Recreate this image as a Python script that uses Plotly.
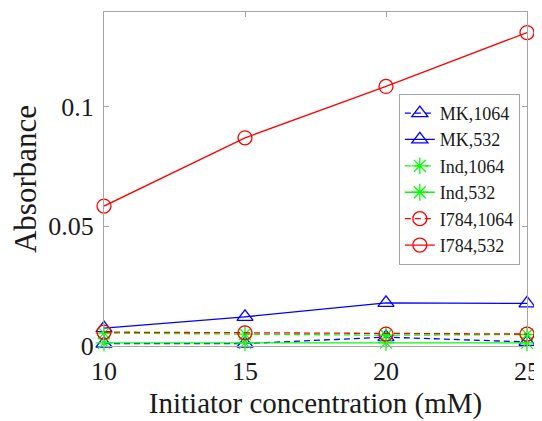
import plotly.graph_objects as go

conc = [10, 15, 20, 25]
mk_1064 = [0.0010, 0.0010, 0.0037, 0.0017]
mk_532 = [0.0075, 0.0122, 0.0180, 0.0178]
ind_1064 = [0.0054, 0.0050, 0.0045, 0.0048]
ind_532 = [0.0013, 0.0013, 0.0014, 0.0013]
i784_1064 = [0.0058, 0.0055, 0.0050, 0.0050]
i784_532 = [0.0585, 0.0870, 0.1085, 0.1310]

series = [
    ("MK,1064", mk_1064, "#0000ff", "6px,4px", "triangle-up-open"),
    ("MK,532", mk_532, "#0000ff", "solid", "triangle-up-open"),
    ("Ind,1064", ind_1064, "#00ff00", "6px,4px", "asterisk-open"),
    ("Ind,532", ind_532, "#00ff00", "solid", "asterisk-open"),
    ("I784,1064", i784_1064, "#ff0000", "6px,4px", "circle-open"),
    ("I784,532", i784_532, "#ff0000", "solid", "circle-open"),
]

fig = go.Figure()
for name, vals, col, dash, sym in series:
    fig.add_trace(go.Scatter(
        x=conc, y=vals, name=name, mode="lines+markers",
        line=dict(color=col, width=1.3, dash=dash),
        marker=dict(symbol=sym, size=14, color=col, line=dict(color=col, width=1.3)),
        cliponaxis=False,
    ))

font = "Liberation Serif, Times New Roman, serif"
axis_common = dict(
    showgrid=False, zeroline=False, showline=True, mirror="allticks",
    linecolor="#a6a6a6", linewidth=1, ticks="inside", ticklen=5,
    tickcolor="#a6a6a6", tickfont=dict(family=font, size=26, color="#1a1a1a"),
    automargin=False,
)
# the page body has an 8px margin, so the figure is offset by 8px
fig.update_layout(
    width=534, height=413,
    margin=dict(l=96, r=15, t=4, b=75, autoexpand=False),
    paper_bgcolor="white", plot_bgcolor="white",
    font=dict(family=font, color="#1a1a1a"),
    xaxis=dict(range=[10, 25], tickvals=[10, 15, 20, 25], ticklabelstandoff=2,
               title=dict(text="Initiator concentration (mM)", font=dict(family=font, size=29), standoff=7),
               **axis_common),
    yaxis=dict(range=[0, 0.1396], tickvals=[0, 0.05, 0.1], ticktext=["0", "0.05", "0.1"],
               ticklabelstandoff=4,
               title=dict(text="Absorbance", font=dict(family=font, size=31), standoff=2),
               **axis_common),
    legend=dict(x=0.697, y=0.755, xanchor="left", yanchor="top",
                bgcolor="white", bordercolor="#a6a6a6", borderwidth=1,
                font=dict(family=font, size=18, color="#1a1a1a"),
                itemwidth=30, tracegroupgap=0),
    showlegend=True,
)
fig.write_html("out.html")
